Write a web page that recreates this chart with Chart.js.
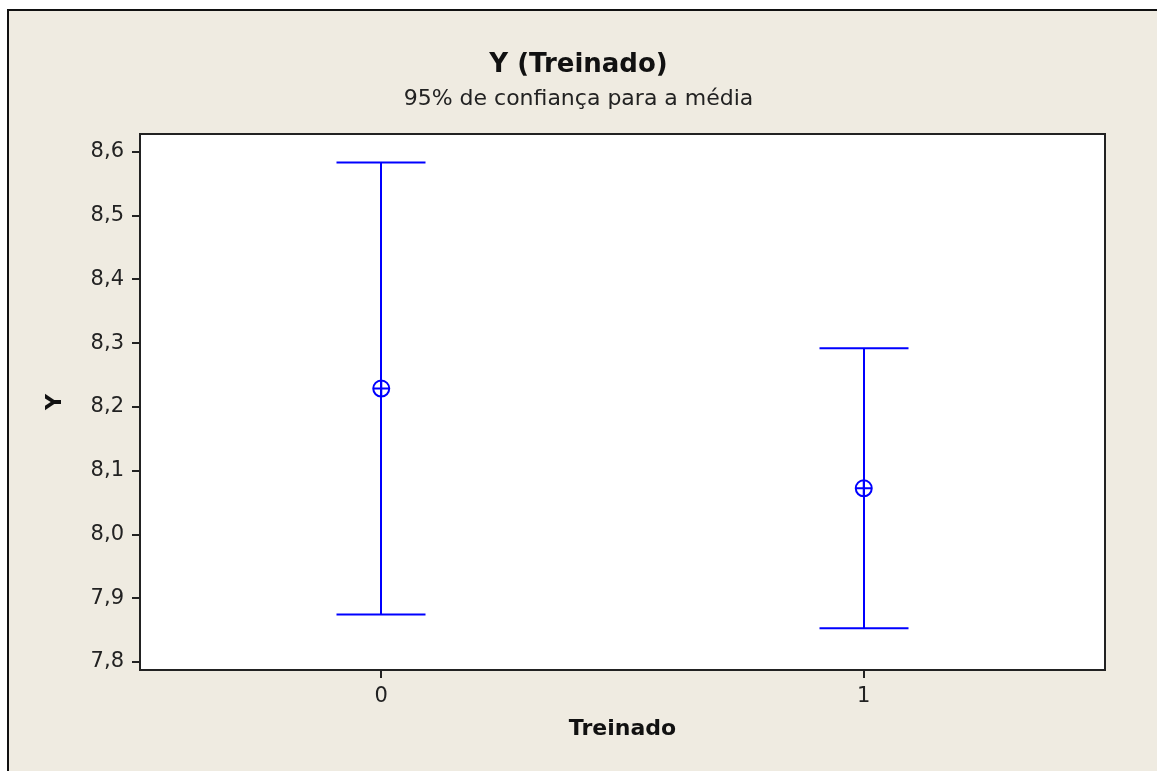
<!DOCTYPE html>
<html><head><meta charset="utf-8">
<script src="https://cdn.jsdelivr.net/npm/chart.js@4.4.0/dist/chart.umd.min.js"></script>
<style>
html,body{margin:0;padding:0;background:#fff;overflow:hidden;}
#c{display:block;}
</style></head><body>
<canvas id="c" width="1157" height="771"></canvas>
<script>
// ---- data ----
const categories = [0, 1];
const categoryLabels = ['0', '1'];
const means = [8.229, 8.0725];
const lower = [7.8745, 7.853];
const upper = [8.5835, 8.292];
const yTicks = [7.8, 7.9, 8.0, 8.1, 8.2, 8.3, 8.4, 8.5, 8.6];
const yTickLabels = ['7,8', '7,9', '8,0', '8,1', '8,2', '8,3', '8,4', '8,5', '8,6'];

const FONT = "'DejaVu Sans', Verdana, sans-serif";
const BLUE = '#0000ff';
Chart.defaults.font.family = FONT;

const plotBox = {
  id: 'plotBox',
  beforeDraw(chart) {
    const {ctx, chartArea: a, width, height} = chart;
    ctx.save();
    ctx.fillStyle = '#ffffff';
    ctx.fillRect(0, 0, width, height);
    ctx.fillStyle = '#efebe1';
    ctx.fillRect(8, 10, width - 8, height - 10);
    ctx.strokeStyle = '#111111';
    ctx.lineWidth = 2;
    ctx.beginPath();
    ctx.moveTo(8, height); ctx.lineTo(8, 10); ctx.lineTo(width, 10);
    ctx.stroke();
    ctx.fillStyle = '#ffffff';
    ctx.fillRect(a.left, a.top, a.right - a.left, a.bottom - a.top);
    ctx.restore();
  },
  beforeDatasetsDraw(chart) {
    const {ctx} = chart;
    const xs = chart.scales.x, ys = chart.scales.y;
    const capHalf = 44.5;
    ctx.save();
    ctx.strokeStyle = BLUE;
    ctx.lineWidth = 2;
    categories.forEach((c, i) => {
      const x = Math.round(xs.getPixelForValue(c));
      const yl = ys.getPixelForValue(lower[i]);
      const yu = ys.getPixelForValue(upper[i]);
      ctx.beginPath();
      ctx.moveTo(x, yu); ctx.lineTo(x, yl);
      ctx.moveTo(x - capHalf, yu); ctx.lineTo(x + capHalf, yu);
      ctx.moveTo(x - capHalf, yl); ctx.lineTo(x + capHalf, yl);
      ctx.stroke();
    });
    ctx.restore();
  },
  afterDraw(chart) {
    const {ctx, chartArea: a} = chart;
    ctx.save();
    ctx.strokeStyle = '#222222';
    ctx.lineWidth = 2;
    ctx.strokeRect(a.left, a.top, a.right - a.left, a.bottom - a.top);
    ctx.restore();
  }
};

const pts = categories.map((c, i) => ({x: c, y: means[i]}));

new Chart(document.getElementById('c'), {
  type: 'scatter',
  data: {
    datasets: [
      {data: pts, pointStyle: 'circle', pointRadius: 8, pointBorderWidth: 2,
       pointBorderColor: BLUE, pointBackgroundColor: 'rgba(0,0,0,0)', pointHoverRadius: 8, showLine: false},
      {data: pts, pointStyle: 'cross', pointRadius: 8, pointBorderWidth: 2,
       pointBorderColor: BLUE, pointBackgroundColor: BLUE, pointHoverRadius: 8, showLine: false}
    ]
  },
  options: {
    responsive: false,
    animation: false,
    events: [],
    devicePixelRatio: 1,
    layout: {padding: {left: 0, right: 0, top: 0, bottom: 0}},
    plugins: {
      legend: {display: false},
      tooltip: {enabled: false},
      title: {display: true, text: 'Y (Treinado)', color: '#111',
        font: {family: FONT, size: 26, weight: 'bold', lineHeight: 1.2},
        padding: {top: 49.4, bottom: 0}},
      subtitle: {display: true, text: '95% de confiança para a média', color: '#222',
        font: {family: FONT, size: 22, weight: 'normal', lineHeight: 1.2},
        padding: {top: 5.2, bottom: 21.8}}
    },
    scales: {
      x: {
        type: 'linear', min: -0.5, max: 1.5,
        afterBuildTicks: s => { s.ticks = categories.map(v => ({value: v})); },
        afterFit: s => { s.height = 101; },
        ticks: {callback: (v, i) => categoryLabels[i], color: '#222', padding: 6,
          maxRotation: 0, autoSkip: false, font: {family: FONT, size: 21}},
        grid: {drawOnChartArea: false, drawTicks: true, tickLength: 8, color: '#222', lineWidth: 2},
        border: {display: false},
        title: {display: true, text: 'Treinado', color: '#111',
          font: {family: FONT, size: 22, weight: 'bold', lineHeight: 1.2},
          padding: {top: 0, bottom: 28.8}}
      },
      y: {
        type: 'linear', min: 7.7875, max: 8.6282,
        afterBuildTicks: s => { s.ticks = yTicks.map(v => ({value: v})); },
        afterFit: s => { s.width = 140; },
        ticks: {callback: (v, i) => yTickLabels[i], color: '#222', padding: 8,
          autoSkip: false, font: {family: FONT, size: 21}},
        grid: {drawOnChartArea: false, drawTicks: true, tickLength: 8, color: '#222', lineWidth: 2},
        border: {display: false},
        title: {display: true, text: 'Y', color: '#111',
          font: {family: FONT, size: 22, weight: 'bold', lineHeight: 1.2},
          padding: {top: 42.3, bottom: 0}}
      },
      yRight: {
        type: 'linear', position: 'right', min: 7.7875, max: 8.6282,
        afterFit: s => { s.width = 52; },
        ticks: {display: false},
        grid: {display: false, drawOnChartArea: false, drawTicks: false},
        border: {display: false},
        title: {display: false}
      }
    }
  },
  plugins: [plotBox]
});
</script>
</body></html>
